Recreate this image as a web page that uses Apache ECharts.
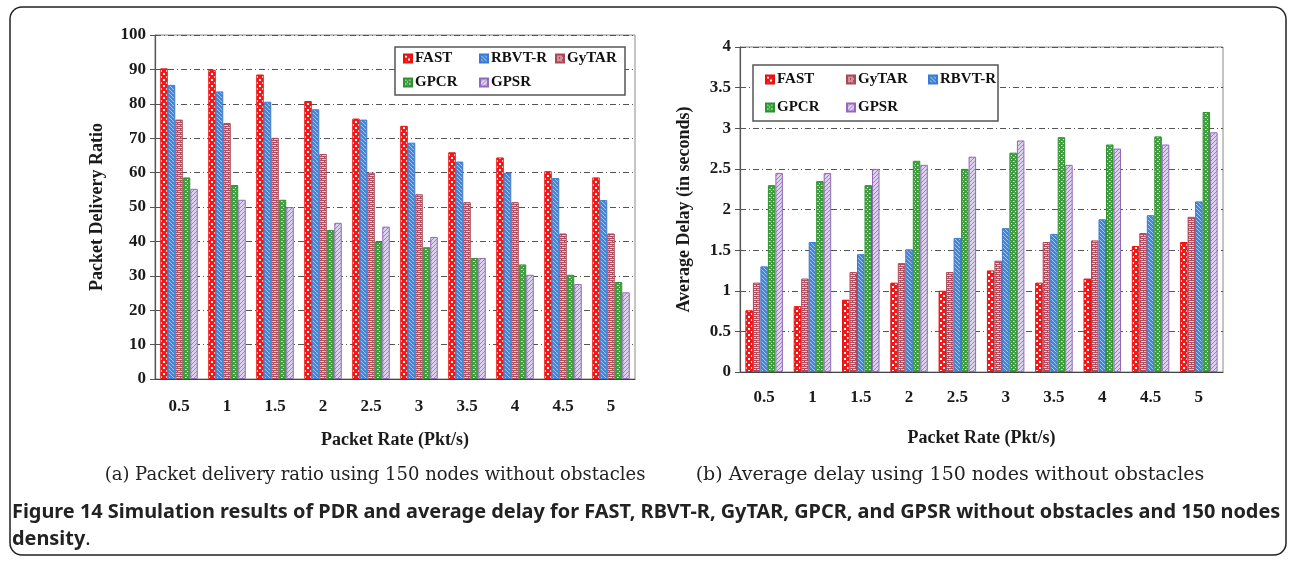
<!DOCTYPE html>
<html>
<head>
<meta charset="utf-8">
<script src="https://cdn.jsdelivr.net/npm/echarts@6/dist/echarts.min.js"></script>
<style>
html,body{margin:0;padding:0;background:#fff;}
#main{width:1290px;height:562px;}
</style>
</head>
<body>
<div id="main"></div>
<script>
// ---------- DATA ----------
var categories = ['0.5','1','1.5','2','2.5','3','3.5','4','4.5','5'];

// (a) Packet delivery ratio
var pdrSeriesNames = ['FAST','RBVT-R','GyTAR','GPCR','GPSR'];
var pdrFAST  = [90.3, 89.9, 88.5, 80.8, 75.7, 73.6, 65.9, 64.4, 60.4, 58.6];
var pdrRBVTR = [85.5, 83.6, 80.6, 78.4, 75.4, 68.7, 63.2, 60.0, 58.4, 52.0];
var pdrGyTAR = [75.4, 74.4, 70.1, 65.4, 60.0, 53.7, 51.4, 51.4, 42.3, 42.3];
var pdrGPCR  = [58.6, 56.4, 52.1, 43.3, 40.0, 38.3, 35.2, 33.3, 30.3, 28.2];
var pdrGPSR  = [55.3, 52.1, 50.0, 45.4, 44.3, 41.3, 35.2, 30.3, 27.6, 25.2];

// (b) Average delay
var delaySeriesNames = ['FAST','GyTAR','RBVT-R','GPCR','GPSR'];
var delayFAST  = [0.76, 0.81, 0.89, 1.10, 1.00, 1.25, 1.10, 1.15, 1.55, 1.60];
var delayGyTAR = [1.10, 1.15, 1.23, 1.34, 1.23, 1.37, 1.60, 1.62, 1.71, 1.91];
var delayRBVTR = [1.30, 1.60, 1.45, 1.51, 1.65, 1.77, 1.70, 1.88, 1.93, 2.10];
var delayGPCR  = [2.30, 2.35, 2.30, 2.60, 2.50, 2.70, 2.89, 2.80, 2.90, 3.20];
var delayGPSR  = [2.45, 2.45, 2.50, 2.55, 2.65, 2.85, 2.55, 2.75, 2.80, 2.95];

var pdrYTicks = [0,10,20,30,40,50,60,70,80,90,100];
var delayYTicks = [0,0.5,1,1.5,2,2.5,3,3.5,4];

var pdrValues = {'FAST':pdrFAST,'RBVT-R':pdrRBVTR,'GyTAR':pdrGyTAR,'GPCR':pdrGPCR,'GPSR':pdrGPSR};
var delayValues = {'FAST':delayFAST,'GyTAR':delayGyTAR,'RBVT-R':delayRBVTR,'GPCR':delayGPCR,'GPSR':delayGPSR};

// ---------- PATTERNS ----------
function tile(w,h,draw){var c=document.createElement('canvas');c.width=w;c.height=h;var g=c.getContext('2d');draw(g,w,h);return c;}
var patterns = {
  'FAST': tile(6,6,function(g){g.fillStyle='#f01818';g.fillRect(0,0,6,6);g.fillStyle='#ffffff';g.fillRect(1,1,2,2);g.fillRect(4,4,2,2);}),
  'RBVT-R': tile(4,4,function(g){g.fillStyle='#4286dc';g.fillRect(0,0,4,4);g.strokeStyle='#a9c8f0';g.lineWidth=1;
      g.beginPath();g.moveTo(0,0);g.lineTo(4,4);g.moveTo(-2,2);g.lineTo(2,6);g.moveTo(2,-2);g.lineTo(6,2);g.stroke();}),
  'GyTAR': tile(6,4,function(g){g.fillStyle='#efd3d8';g.fillRect(0,0,6,4);g.fillStyle='#b04c5e';
      g.fillRect(0,0,6,1);g.fillRect(0,2,6,1);g.fillRect(0,0,1,2);g.fillRect(3,2,1,2);}),
  'GPCR': tile(4,4,function(g){g.fillStyle='#3f9f3f';g.fillRect(0,0,4,4);g.fillStyle='#e8f4e8';g.fillRect(1,1,1,1);g.fillRect(3,3,1,1);g.fillStyle='#9fd09f';g.fillRect(2,1,1,1);}),
  'GPSR': tile(4,4,function(g){g.fillStyle='#ddd2ec';g.fillRect(0,0,4,4);g.strokeStyle='#a17cc6';g.lineWidth=1;
      g.beginPath();g.moveTo(0,4);g.lineTo(4,0);g.moveTo(-2,2);g.lineTo(2,-2);g.moveTo(2,6);g.lineTo(6,2);g.stroke();})
};
var borders = {'FAST':'#e81010','RBVT-R':'#3a7ad0','GyTAR':'#a84858','GPCR':'#2f912f','GPSR':'#9468bc'};

var serif = '"Liberation Serif","Times New Roman",serif';
var gridLineStyle = {color:'#555', width:1, type:[6,3,1,3]};

function makeSeries(names, values, gi){
  return names.map(function(n){
    return {
      name:n, type:'bar', xAxisIndex:gi, yAxisIndex:gi,
      data: values[n], barWidth:7.5, barGap:'0%',
      itemStyle:{color:{image:patterns[n], repeat:'repeat'}, borderColor:borders[n], borderWidth:1},
      emphasis:{disabled:true}
    };
  });
}

var series = makeSeries(pdrSeriesNames, pdrValues, 0).concat(makeSeries(delaySeriesNames, delayValues, 1));

// legends (one per item for fixed column alignment)
var legends = [];
function addLegends(names, xs, ys){
  names.forEach(function(n,i){
    legends.push({
      data:[n], left: xs[i%3], top: ys[Math.floor(i/3)], z:10,
      icon:'rect', itemWidth:8, itemHeight:8, itemGap:0, padding:0, selectedMode:false,
      textStyle:{fontFamily:serif, fontWeight:'bold', fontSize:15, color:'#111', padding:[0,0,0,-2]}
    });
  });
}
addLegends(pdrSeriesNames, [403,479,555], [51,75]);
addLegends(delaySeriesNames, [765,846,928], [72,100]);

var axisLabelStyle = {fontFamily:serif, fontWeight:'bold', fontSize:17, color:'#1a1a1a'};
var nameStyle = {fontFamily:serif, fontWeight:'bold', fontSize:18, color:'#1a1a1a'};

var option = {
  animation:false,
  backgroundColor:'#ffffff',
  grid:[
    {left:155, top:35, width:480, height:344, show:true, borderColor:'#8a8a8a', borderWidth:1, containLabel:false},
    {left:740, top:47, width:483, height:325, show:true, borderColor:'#8a8a8a', borderWidth:1, containLabel:false}
  ],
  legend: legends,
  xAxis:[
    {type:'category', gridIndex:0, data:categories,
     axisLine:{lineStyle:{color:'#444', width:1.2}}, axisTick:{show:false},
     axisLabel:Object.assign({margin:19}, axisLabelStyle),
     name:'Packet Rate (Pkt/s)', nameLocation:'middle', nameGap:52, nameTextStyle:nameStyle},
    {type:'category', gridIndex:1, data:categories,
     axisLine:{lineStyle:{color:'#444', width:1.2}}, axisTick:{show:false},
     axisLabel:Object.assign({margin:17}, axisLabelStyle),
     name:'Packet Rate (Pkt/s)', nameLocation:'middle', nameGap:57, nameTextStyle:nameStyle}
  ],
  yAxis:[
    {type:'value', gridIndex:0, min:pdrYTicks[0], max:pdrYTicks[pdrYTicks.length-1], interval:10,
     axisLine:{show:true, lineStyle:{color:'#555', width:1.2}},
     axisTick:{show:true, length:5, lineStyle:{color:'#555'}},
     axisLabel:Object.assign({margin:9}, axisLabelStyle),
     splitLine:{show:true, lineStyle:gridLineStyle},
     name:'Packet Delivery Ratio', nameLocation:'middle', nameGap:49, nameTextStyle:nameStyle},
    {type:'value', gridIndex:1, min:delayYTicks[0], max:delayYTicks[delayYTicks.length-1], interval:0.5,
     axisLine:{show:true, lineStyle:{color:'#555', width:1.2}},
     axisTick:{show:true, length:5, lineStyle:{color:'#555'}},
     axisLabel:Object.assign({margin:9}, axisLabelStyle),
     splitLine:{show:true, lineStyle:gridLineStyle},
     name:'Average Delay (in seconds)', nameLocation:'middle', nameGap:47, nameTextStyle:nameStyle}
  ],
  series: series,
  graphic:[
    {type:'rect', shape:{x:10, y:7, width:1276, height:548, r:12}, style:{fill:'none', stroke:'#222', lineWidth:1.5}, silent:true, z:-10},
    {type:'rect', shape:{x:395, y:47, width:230, height:48}, style:{fill:'#fff', stroke:'#555', lineWidth:1.5}, z:3},
    {type:'rect', shape:{x:753, y:65, width:245, height:56}, style:{fill:'#fff', stroke:'#555', lineWidth:1.5}, z:3},
    {type:'text', x:375, y:466, style:{text:'(a) Packet delivery ratio using 150 nodes without obstacles', font:'18px "DejaVu Serif", serif', fill:'#222', textAlign:'center'}},
    {type:'text', x:950, y:466, style:{text:'(b) Average delay using 150 nodes without obstacles', font:'19px "DejaVu Serif", serif', fill:'#222', textAlign:'center'}},
    {type:'text', x:12, y:502, style:{text:'Figure 14 Simulation results of PDR and average delay for FAST, RBVT-R, GyTAR, GPCR, and GPSR without obstacles and 150 nodes', font:'bold 19.9px "Noto Sans", sans-serif', fill:'#222'}},
    {type:'text', x:12, y:529, style:{rich:{b:{font:'bold 19.9px "Noto Sans", sans-serif', fill:'#222'}, n:{font:'19.9px "Noto Sans", sans-serif', fill:'#222'}}, text:'{b|density}{n|.}'}}
  ]
};
var chart = echarts.init(document.getElementById('main'));
chart.setOption(option);
</script>
</body>
</html>
